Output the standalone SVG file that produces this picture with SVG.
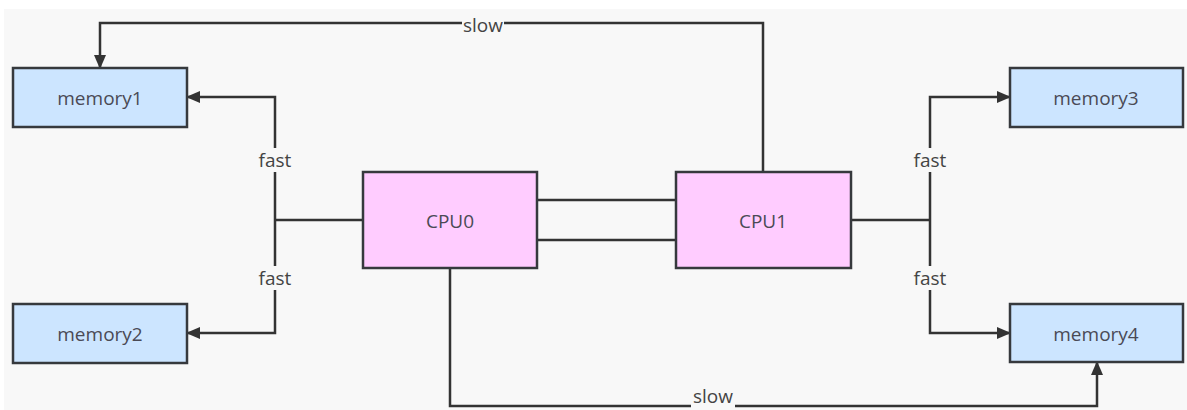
<svg xmlns="http://www.w3.org/2000/svg" width="1187" height="410" viewBox="0 0 1187 410">
  <defs>
    <marker id="arrow" viewBox="0 0 14 12" refX="13" refY="6" markerWidth="14" markerHeight="12" markerUnits="userSpaceOnUse" orient="auto">
      <path d="M0,0 L14,6 L0,12 Z" fill="#333333"/>
    </marker>
    <style>
      .mem { fill: #cce5ff; stroke: #36393d; stroke-width: 2.5; }
      .cpu { fill: #ffccff; stroke: #36393d; stroke-width: 2.5; }
      .node-label { font-family: "Open Sans", "Noto Sans", sans-serif; font-size: 19px; fill: #4a4a55; text-anchor: middle; dominant-baseline: central; }
      .edge { fill: none; stroke: #333333; stroke-width: 2.5; }
      .edge-label { font-family: "Open Sans", "Noto Sans", sans-serif; font-size: 19px; fill: #444444; text-anchor: middle; dominant-baseline: central; }
      .label-bg { fill: #f8f8f8; }
    </style>
  </defs>

  <rect x="0" y="0" width="1187" height="410" fill="#ffffff"/>
  <rect x="4" y="9" width="1183" height="401" fill="#f8f8f8"/>

  <g id="connectors">
    <!-- CPU1 to memory1 (slow, over the top) -->
    <path class="edge" d="M763,172 V23 H100 V68" marker-end="url(#arrow)"/>
    <!-- CPU0 to memory1 / memory2 (fast) -->
    <path class="edge" d="M363,220 H275"/>
    <path class="edge" d="M275,220 V97 H187" marker-end="url(#arrow)"/>
    <path class="edge" d="M275,220 V333 H187" marker-end="url(#arrow)"/>
    <!-- CPU0 to CPU1 interconnect -->
    <path class="edge" d="M537,200 H676"/>
    <path class="edge" d="M537,240 H676"/>
    <!-- CPU1 to memory3 / memory4 (fast) -->
    <path class="edge" d="M851,220 H930"/>
    <path class="edge" d="M930,220 V97 H1010" marker-end="url(#arrow)"/>
    <path class="edge" d="M930,220 V333 H1010" marker-end="url(#arrow)"/>
    <!-- CPU0 to memory4 (slow, along the bottom) -->
    <path class="edge" d="M450,268 V406 H1097 V362" marker-end="url(#arrow)"/>

    <!-- edge labels -->
    <rect class="label-bg" x="462" y="14" width="42" height="17"/>
    <text class="edge-label" x="483" y="25">slow</text>
    <rect class="label-bg" x="256" y="148" width="38" height="24"/>
    <text class="edge-label" x="275" y="160">fast</text>
    <rect class="label-bg" x="256" y="266" width="38" height="24"/>
    <text class="edge-label" x="275" y="278">fast</text>
    <rect class="label-bg" x="911" y="148" width="38" height="24"/>
    <text class="edge-label" x="930" y="160">fast</text>
    <rect class="label-bg" x="911" y="266" width="38" height="24"/>
    <text class="edge-label" x="930" y="278">fast</text>
    <rect class="label-bg" x="691" y="389" width="44" height="21"/>
    <text class="edge-label" x="713" y="396">slow</text>
  </g>

  <g id="memory1">
    <rect class="mem" x="13" y="68" width="174" height="59"/>
    <text class="node-label" x="100" y="98">memory1</text>
  </g>
  <g id="memory2">
    <rect class="mem" x="13" y="304" width="174" height="59"/>
    <text class="node-label" x="100" y="334">memory2</text>
  </g>
  <g id="memory3">
    <rect class="mem" x="1010" y="68" width="173" height="59"/>
    <text class="node-label" x="1096" y="98">memory3</text>
  </g>
  <g id="memory4">
    <rect class="mem" x="1010" y="304" width="173" height="58"/>
    <text class="node-label" x="1096" y="334">memory4</text>
  </g>
  <g id="cpu0">
    <rect class="cpu" x="363" y="172" width="174" height="96"/>
    <text class="node-label" x="450" y="221">CPU0</text>
  </g>
  <g id="cpu1">
    <rect class="cpu" x="676" y="172" width="175" height="96"/>
    <text class="node-label" x="763" y="221">CPU1</text>
  </g>
</svg>
